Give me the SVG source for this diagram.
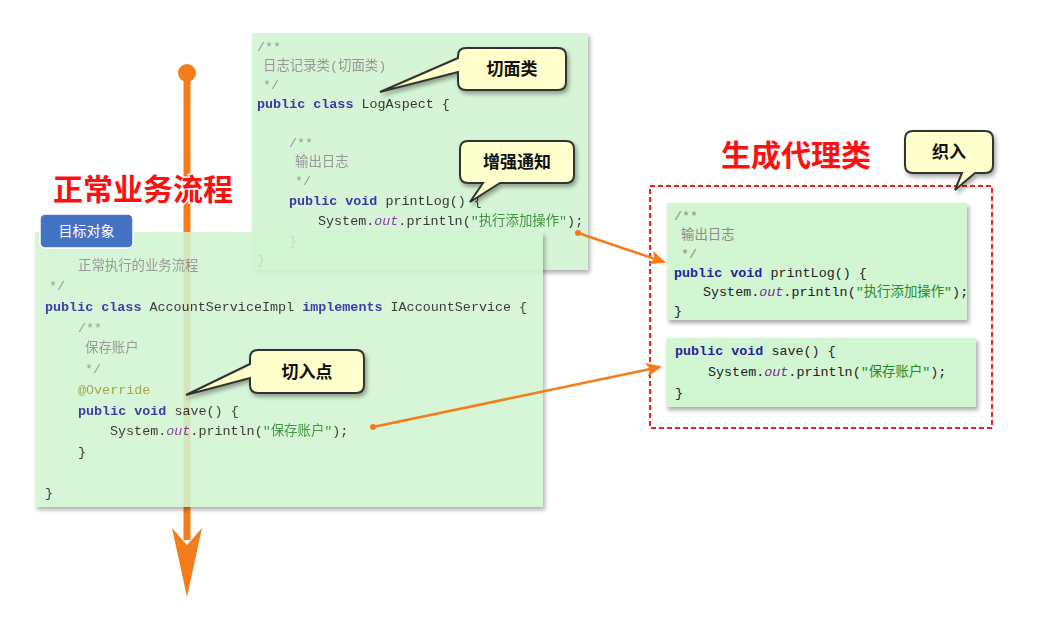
<svg xmlns="http://www.w3.org/2000/svg" width="1043" height="619" viewBox="0 0 1043 619">
<defs>
<style>
.code{font-family:"Liberation Mono","DejaVu Sans Mono","Noto Sans CJK SC",monospace;font-size:13.4px;fill:#222}
.kw{fill:#24249a;font-weight:bold}
.out{fill:#7a2a9a;font-style:italic}
.str{fill:#2a8a2a}
.cm{fill:#8c8c8c}
.ann{fill:#9a9a30}
.box{fill:#d2f5d2;filter:url(#sh)}
.callout{fill:#ffffcc;stroke:#333;stroke-width:2;filter:url(#sh)}
.ct{font-family:"Noto Sans CJK SC",sans-serif;font-size:17px;font-weight:bold;fill:#111;text-anchor:middle}
.title{font-family:"Noto Sans CJK SC",sans-serif;font-size:30px;font-weight:bold;fill:#ff1010;stroke:#fff;stroke-width:3;paint-order:stroke;text-anchor:middle}
.conn{stroke:#f57c1a;stroke-width:2.5;fill:none}
</style>
<filter id="sh" x="-10%" y="-10%" width="130%" height="130%"><feDropShadow dx="2" dy="3" stdDeviation="2" flood-color="#000" flood-opacity="0.35"/></filter>
<marker id="ah" markerWidth="16" markerHeight="14" refX="14" refY="7" orient="auto" markerUnits="userSpaceOnUse"><path d="M0,0 L16,7 L0,14 L4,7 Z" fill="#f57c1a"/></marker>
</defs>
<rect width="1043" height="619" fill="#fff"/>

<g id="flow">
<line x1="187" y1="73" x2="187" y2="540" stroke="#f57c1a" stroke-width="7"/>
<circle cx="187" cy="73" r="9" fill="#f57c1a"/>
<path d="M172,528 L187,545 L202,528 L187,597 Z" fill="#f57c1a"/>
</g>

<g id="logaspect" opacity="0.9">
<rect class="box" x="252" y="33" width="336" height="237"/>
<text class="code" x="257" y="51"><tspan class="cm">/**</tspan></text>
<text class="code" x="263" y="70"><tspan class="cm">日志记录类(切面类)</tspan></text>
<text class="code" x="263" y="89"><tspan class="cm">*/</tspan></text>
<text class="code" x="257" y="108"><tspan class="kw">public class</tspan> LogAspect {</text>
<text class="code" x="289" y="147"><tspan class="cm">/**</tspan></text>
<text class="code" x="295" y="166"><tspan class="cm">输出日志</tspan></text>
<text class="code" x="295" y="185"><tspan class="cm">*/</tspan></text>
<text class="code" x="289" y="205"><tspan class="kw">public void</tspan> printLog() {</text>
<text class="code" x="318" y="225">System.<tspan class="out">out</tspan>.println(<tspan class="str">"执行添加操作"</tspan>);</text>
<text class="code" x="289" y="245">}</text>
<text class="code" x="257" y="264">}</text>
</g>

<g id="title-flow"><text class="title" x="143" y="200">正常业务流程</text></g>

<g id="account" opacity="0.88">
<rect class="box" x="35" y="232" width="508" height="275"/>
<text class="code" x="78" y="270"><tspan class="cm">正常执行的业务流程</tspan></text>
<text class="code" x="49" y="290"><tspan class="cm">*/</tspan></text>
<text class="code" x="45" y="311"><tspan class="kw">public class</tspan> AccountServiceImpl <tspan class="kw">implements</tspan> IAccountService {</text>
<text class="code" x="78" y="332"><tspan class="cm">/**</tspan></text>
<text class="code" x="85" y="352"><tspan class="cm">保存账户</tspan></text>
<text class="code" x="85" y="373"><tspan class="cm">*/</tspan></text>
<text class="code" x="78" y="394"><tspan class="ann">@Override</tspan></text>
<text class="code" x="78" y="415"><tspan class="kw">public void</tspan> save() {</text>
<text class="code" x="110" y="435">System.<tspan class="out">out</tspan>.println(<tspan class="str">"保存账户"</tspan>);</text>
<text class="code" x="78" y="456">}</text>
<text class="code" x="45" y="497">}</text>
</g>

<g id="target-label">
<rect x="40" y="214" width="93" height="34" rx="5" fill="#4472c4" stroke="#fff" stroke-width="1.5"/>
<text x="86.5" y="236" font-family="Noto Sans CJK SC,sans-serif" font-size="14" fill="#fff" text-anchor="middle">目标对象</text>
</g>

<g id="title-proxy"><text class="title" x="796" y="166">生成代理类</text></g>

<g id="proxy">
<rect x="650" y="186" width="342" height="242" fill="none" stroke="#ee2222" stroke-width="2" stroke-dasharray="5,3"/>
<rect class="box" x="667" y="203" width="300" height="117"/>
<text class="code" x="674" y="220"><tspan class="cm">/**</tspan></text>
<text class="code" x="681" y="239"><tspan class="cm">输出日志</tspan></text>
<text class="code" x="681" y="258"><tspan class="cm">*/</tspan></text>
<text class="code" x="674" y="277"><tspan class="kw">public void</tspan> printLog() {</text>
<text class="code" x="703" y="296">System.<tspan class="out">out</tspan>.println(<tspan class="str">"执行添加操作"</tspan>);</text>
<text class="code" x="674" y="315">}</text>
<rect class="box" x="666" y="338" width="310" height="69"/>
<text class="code" x="675" y="355"><tspan class="kw">public void</tspan> save() {</text>
<text class="code" x="708" y="376">System.<tspan class="out">out</tspan>.println(<tspan class="str">"保存账户"</tspan>);</text>
<text class="code" x="675" y="397">}</text>
</g>

<g id="connectors">
<circle cx="578" cy="233" r="3" fill="#f57c1a"/>
<line class="conn" x1="578" y1="233" x2="664" y2="262" marker-end="url(#ah)"/>
<circle cx="373" cy="427" r="3" fill="#f57c1a"/>
<line class="conn" x1="373" y1="427" x2="660" y2="367" marker-end="url(#ah)"/>
</g>

<g id="callout-aspect">
<path class="callout" d="M466,48 H558 Q566,48 566,56 V82 Q566,90 558,90 H466 Q458,90 458,82 V72 L380,92 L458,58 V56 Q458,48 466,48 Z"/>
<text class="ct" x="512" y="75">切面类</text>
</g>
<g id="callout-advice">
<path class="callout" d="M468,141 H566 Q574,141 574,149 V175 Q574,183 566,183 H500 L470,202 L483,183 H468 Q460,183 460,175 V149 Q460,141 468,141 Z"/>
<text class="ct" x="517" y="168">增强通知</text>
</g>
<g id="callout-joinpoint">
<path class="callout" d="M258,350 H356 Q364,350 364,358 V385 Q364,393 356,393 H258 Q250,393 250,385 V378 L186,395 L250,364 V358 Q250,350 258,350 Z"/>
<text class="ct" x="307" y="378">切入点</text>
</g>
<g id="callout-weave">
<path class="callout" d="M913,131 H985 Q993,131 993,139 V165 Q993,173 985,173 H975 L955,190 L962,173 H913 Q905,173 905,165 V139 Q905,131 913,131 Z"/>
<text class="ct" x="949" y="158">织入</text>
</g>
</svg>
